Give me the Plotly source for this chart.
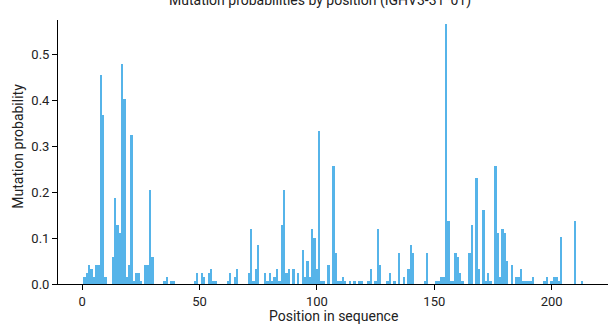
import plotly.graph_objects as go

# Sequence positions (1-based) and mutation probability at each position
positions = list(range(1, 214))

probs_1_50 = [
    0.015, 0.023, 0.041, 0.032, 0.015, 0.041, 0.041, 0.454, 0.367, 0.015,
    0.000, 0.000, 0.058, 0.187, 0.128, 0.111, 0.478, 0.402, 0.015, 0.041,
    0.324, 0.006, 0.023, 0.023, 0.006, 0.000, 0.041, 0.041, 0.204, 0.058,
    0.000, 0.000, 0.000, 0.000, 0.006, 0.015, 0.000, 0.006, 0.006, 0.000,
    0.000, 0.000, 0.000, 0.000, 0.000, 0.000, 0.000, 0.006, 0.023, 0.000,
]
probs_51_100 = [
    0.023, 0.015, 0.000, 0.023, 0.032, 0.006, 0.006, 0.000, 0.000, 0.000,
    0.000, 0.006, 0.023, 0.000, 0.015, 0.032, 0.000, 0.000, 0.000, 0.000,
    0.023, 0.119, 0.006, 0.032, 0.084, 0.000, 0.000, 0.023, 0.006, 0.023,
    0.006, 0.015, 0.032, 0.006, 0.128, 0.204, 0.023, 0.032, 0.000, 0.032,
    0.000, 0.023, 0.000, 0.075, 0.015, 0.050, 0.015, 0.120, 0.101, 0.032,
]
probs_101_150 = [
    0.333, 0.006, 0.006, 0.000, 0.041, 0.000, 0.257, 0.067, 0.006, 0.006,
    0.015, 0.006, 0.000, 0.006, 0.000, 0.006, 0.000, 0.006, 0.006, 0.000,
    0.000, 0.006, 0.032, 0.000, 0.006, 0.120, 0.041, 0.000, 0.000, 0.006,
    0.023, 0.000, 0.006, 0.000, 0.067, 0.000, 0.015, 0.000, 0.033, 0.084,
    0.067, 0.000, 0.000, 0.000, 0.000, 0.006, 0.067, 0.000, 0.000, 0.000,
]
probs_151_213 = [
    0.006, 0.006, 0.015, 0.015, 0.565, 0.136, 0.006, 0.006, 0.067, 0.058,
    0.023, 0.006, 0.000, 0.000, 0.067, 0.128, 0.000, 0.230, 0.033, 0.000,
    0.160, 0.006, 0.024, 0.006, 0.000, 0.257, 0.111, 0.015, 0.120, 0.111,
    0.050, 0.000, 0.041, 0.000, 0.015, 0.015, 0.033, 0.006, 0.006, 0.006,
    0.006, 0.015, 0.000, 0.000, 0.000, 0.000, 0.006, 0.015, 0.000, 0.006,
    0.015, 0.015, 0.006, 0.102, 0.000, 0.000, 0.000, 0.000, 0.000, 0.137,
    0.000, 0.000, 0.006,
]
probs = probs_1_50 + probs_51_100 + probs_101_150 + probs_151_213

x_ticks = [0, 50, 100, 150, 200]
y_ticks = [0.0, 0.1, 0.2, 0.3, 0.4, 0.5]

fig = go.Figure()
fig.add_trace(
    go.Bar(
        x=positions,
        y=probs,
        width=1,
        marker=dict(color="#56B4E9", line=dict(width=0)),
    )
)

axis_style = dict(
    showline=True,
    linecolor="black",
    linewidth=1,
    ticks="outside",
    ticklen=5,
    tickcolor="black",
    tickwidth=1,
    showgrid=False,
    zeroline=False,
    tickfont=dict(size=13, color="#222222"),
)

fig.update_layout(
    width=609,
    height=325,
    margin=dict(l=58, r=1, t=20, b=41),
    plot_bgcolor="white",
    paper_bgcolor="white",
    font=dict(family="Roboto", color="#222222"),
    showlegend=False,
    bargap=0,
    xaxis=dict(range=[-10.3, 224.0], tickvals=x_ticks, **axis_style),
    yaxis=dict(
        range=[0, 0.574],
        tickvals=y_ticks,
        tickformat=".1f",
        **axis_style,
    ),
    annotations=[
        # title sits on the top edge, only its lower half shows
        dict(
            text="Mutation probabilities by position (IGHV3-31*01)",
            xref="paper", yref="paper",
            x=0.4755, y=1.075,
            xanchor="center", yanchor="middle",
            showarrow=False,
            font=dict(size=14, color="#222222"),
        ),
        dict(
            text="Position in sequence",
            xref="paper", yref="paper",
            x=0.5, y=-0.123,
            xanchor="center", yanchor="middle",
            showarrow=False,
            font=dict(size=14, color="#222222"),
        ),
        dict(
            text="Mutation probability",
            xref="paper", yref="paper",
            x=-0.0727, y=0.52,
            xanchor="center", yanchor="middle",
            textangle=-90,
            showarrow=False,
            font=dict(size=14, color="#222222"),
        ),
    ],
)

# drop the browser's default body margin so the figure sits at the top-left corner
fig.write_html(
    "out.html",
    config={"displayModeBar": False},
    post_script="document.body.style.margin='0';",
)
